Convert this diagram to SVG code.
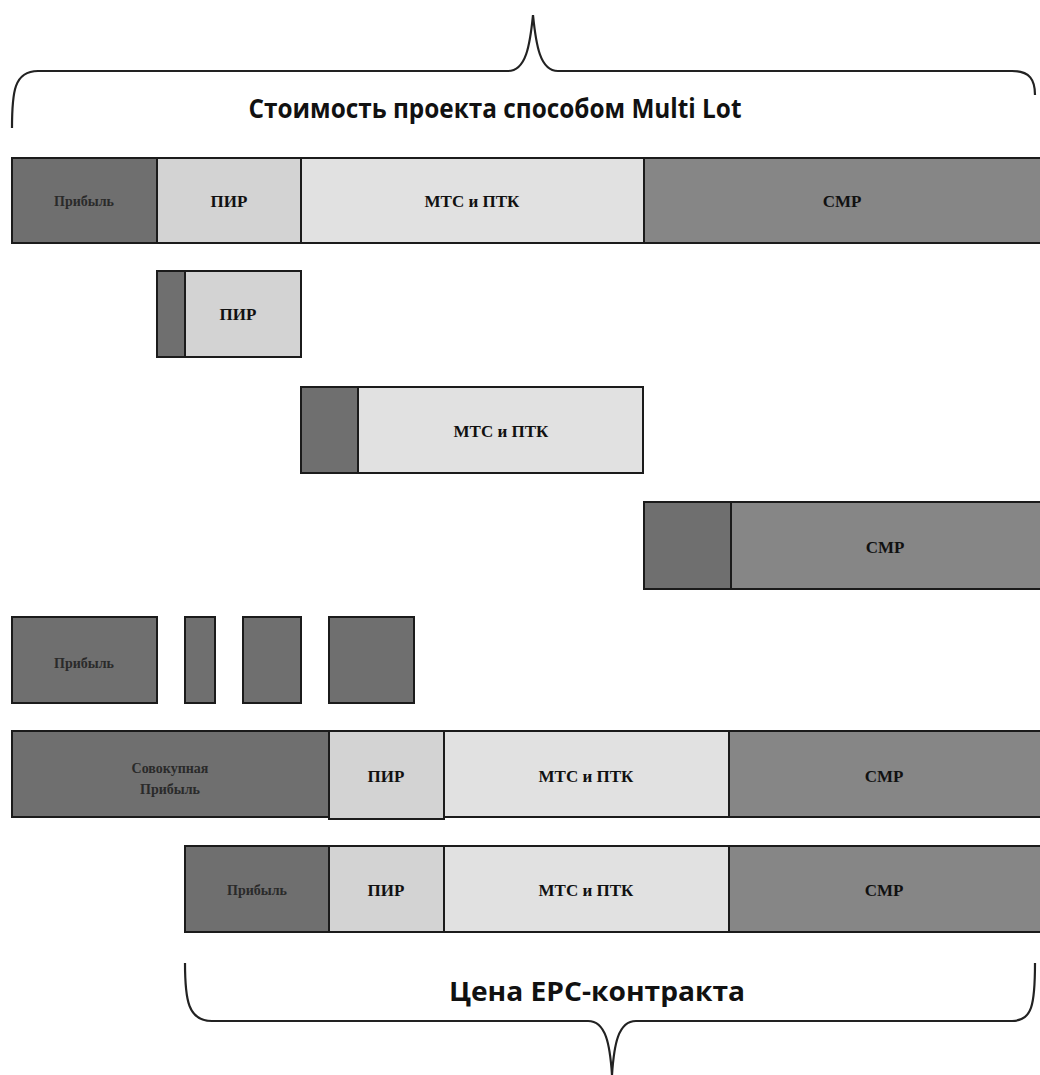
<svg xmlns="http://www.w3.org/2000/svg" width="1040" height="1075" viewBox="0 0 1040 1075">
<style>
.b{stroke:#1b1b1b;stroke-width:2}
.dk{fill:#6f6f6f}
.pir{fill:#d3d3d3}
.mtc{fill:#e1e1e1}
.smr{fill:#868686}
.t{font-family:"Liberation Serif","DejaVu Serif",serif;font-weight:bold;font-size:17px;fill:#111;text-anchor:middle;dominant-baseline:central}
.tp{font-family:"Liberation Serif","DejaVu Serif",serif;font-weight:bold;font-size:14px;fill:#2a2a2a;text-anchor:middle;dominant-baseline:central}
.h{font-family:"Open Sans","Liberation Sans",sans-serif;font-weight:bold;font-size:26px;fill:#111;text-anchor:middle}
.br{fill:none;stroke:#222;stroke-width:2.2}
</style>
<rect width="1040" height="1075" fill="#fff"/>
<g id="braces">
<path class="br" d="M12,128 C12,92 14,71 38,71 L508,71 C526,71 530,45 533,15 C536,45 540,71 558,71 L1012,71 C1030,71 1035,80 1035,95"/>
<path class="br" d="M185,963 C185,1000 188,1021 212,1021 L588,1021 C606,1021 610,1045 612,1075 C614,1045 618,1021 636,1021 L1012,1021 C1032,1021 1035,1005 1035,963"/>
</g>
<text class="h" x="495" y="118" textLength="493" lengthAdjust="spacingAndGlyphs">Стоимость проекта способом Multi Lot</text>
<text class="h" x="597" y="1001" textLength="296" lengthAdjust="spacingAndGlyphs">Цена EPC-контракта</text>
<g id="row1">
<rect class="b dk" x="12" y="158" width="145" height="85"/>
<rect class="b pir" x="157" y="158" width="144" height="85"/>
<rect class="b mtc" x="301" y="158" width="343" height="85"/>
<rect class="b smr" x="644" y="158" width="400" height="85"/>
<text class="tp" x="84" y="201">Прибыль</text>
<text class="t" x="229" y="201">ПИР</text>
<text class="t" x="472" y="201">МТС и ПТК</text>
<text class="t" x="842" y="201">СМР</text>
</g>
<g id="row2">
<rect class="b pir" x="157" y="271" width="144" height="86"/>
<rect class="b dk" x="157" y="271" width="28" height="86"/>
<text class="t" x="238" y="314">ПИР</text>
</g>
<g id="row3">
<rect class="b mtc" x="301" y="387" width="342" height="86"/>
<rect class="b dk" x="301" y="387" width="57" height="86"/>
<text class="t" x="501" y="431">МТС и ПТК</text>
</g>
<g id="row4">
<rect class="b smr" x="644" y="502" width="400" height="87"/>
<rect class="b dk" x="644" y="502" width="87" height="87"/>
<text class="t" x="885" y="547">СМР</text>
</g>
<g id="row5">
<rect class="b dk" x="12" y="617" width="145" height="86"/>
<rect class="b dk" x="185" y="617" width="30" height="86"/>
<rect class="b dk" x="243" y="617" width="58" height="86"/>
<rect class="b dk" x="329" y="617" width="85" height="86"/>
<text class="tp" x="84" y="663">Прибыль</text>
</g>
<g id="row6">
<rect class="b dk" x="12" y="731" width="317" height="86"/>
<rect class="b pir" x="329" y="731" width="115" height="88"/>
<rect class="b mtc" x="444" y="731" width="285" height="86"/>
<rect class="b smr" x="729" y="731" width="315" height="86"/>
<text class="tp" x="170" y="768">Совокупная</text>
<text class="tp" x="170" y="789">Прибыль</text>
<text class="t" x="386" y="776">ПИР</text>
<text class="t" x="586" y="776">МТС и ПТК</text>
<text class="t" x="884" y="776">СМР</text>
</g>
<g id="row7">
<rect class="b dk" x="185" y="846" width="144" height="86"/>
<rect class="b pir" x="329" y="846" width="115" height="86"/>
<rect class="b mtc" x="444" y="846" width="285" height="86"/>
<rect class="b smr" x="729" y="846" width="315" height="86"/>
<text class="tp" x="257" y="890">Прибыль</text>
<text class="t" x="386" y="890">ПИР</text>
<text class="t" x="586" y="890">МТС и ПТК</text>
<text class="t" x="884" y="890">СМР</text>
</g>
</svg>
